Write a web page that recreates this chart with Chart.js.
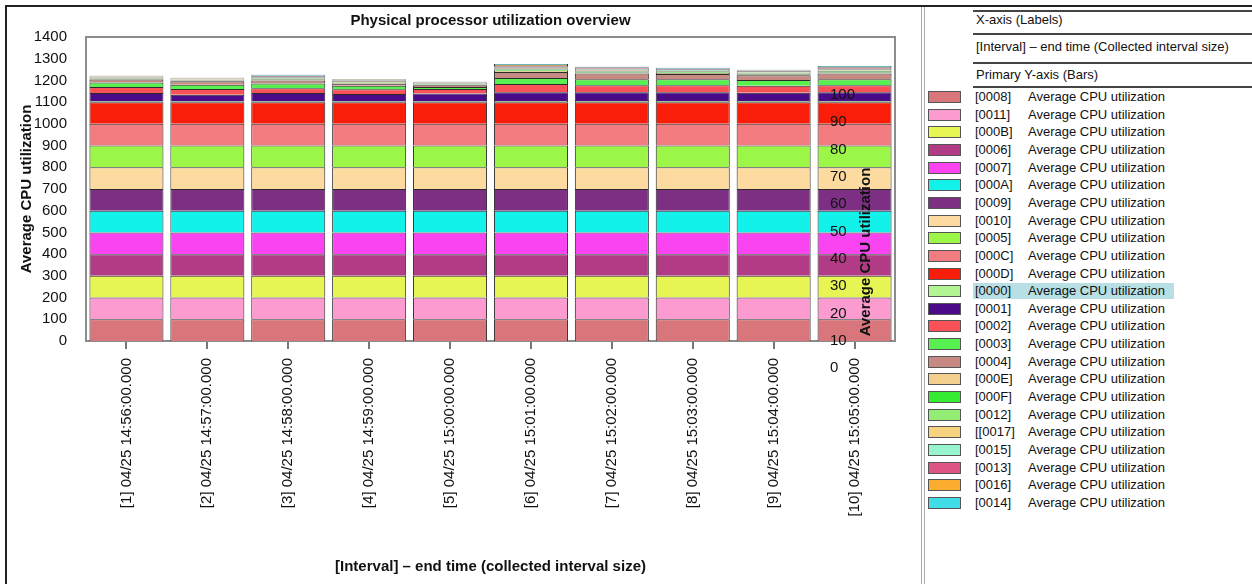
<!DOCTYPE html>
<html>
<head>
<meta charset="utf-8">
<script src="https://cdn.jsdelivr.net/npm/chart.js@4.4.1/dist/chart.umd.min.js"></script>
<style>
  body { margin: 0; background: #fff; font-family: "Liberation Sans", Arial, sans-serif; }
  #page { position: relative; width: 1252px; height: 584px; overflow: hidden; }
  #frame { position: absolute; left: 5px; top: 5px; right: 0; bottom: 0; border-top: 2px solid #222; border-left: 2px solid #222; }
  #chartBox { position: absolute; left: 6px; top: 6px; width: 914px; height: 578px; }
  #sep { position: absolute; left: 921px; top: 7px; bottom: 0; width: 2px; border-left: 1px solid #aaa; border-right: 1px solid #aaa; }
  .rule { position: absolute; left: 973px; right: 0; height: 0; border-top: 2px solid #444; }
  .hdr { position: absolute; left: 976px; font-size: 13px; line-height: 16px; color: #111; white-space: nowrap; }
  .row { position: absolute; left: 928px; height: 16px; line-height: 16px; font-size: 13px; color: #111; white-space: nowrap; }
  .sw { position: absolute; left: 0; top: 2px; width: 31px; height: 10px; border: 1px solid #555; }
  .code { position: absolute; left: 47px; }
  .name { position: absolute; left: 100px; }
  .hl { position: absolute; left: 45px; width: 201px; top: 0; height: 16px; background: #b8dfe3; }
</style>
</head>
<body>
<div id="page">
  <div id="frame"></div>
  <div id="chartBox"><canvas id="chart" width="914" height="578"></canvas></div>
  <div id="sep"></div>
  <div id="legend"></div>
</div>
<script>
// x-axis categories
const intervals = [
  "[1] 04/25 14:56:00.000", "[2] 04/25 14:57:00.000", "[3] 04/25 14:58:00.000",
  "[4] 04/25 14:59:00.000", "[5] 04/25 15:00:00.000", "[6] 04/25 15:01:00.000",
  "[7] 04/25 15:02:00.000", "[8] 04/25 15:03:00.000", "[9] 04/25 15:04:00.000",
  "[10] 04/25 15:05:00.000"
];

// processors in legend / stacking order (bottom first)
const processors = ["[0008]", "[0011]", "[000B]", "[0006]", "[0007]", "[000A]", "[0009]", "[0010]",
  "[0005]", "[000C]", "[000D]", "[0000]", "[0001]", "[0002]", "[0003]", "[0004]",
  "[000E]", "[000F]", "[0012]", "[[0017]", "[0015]", "[0013]", "[0016]", "[0014]"];

const colors = ["#d8767c", "#fb9bd0", "#e6f553", "#b13c85", "#fa44f2", "#12f2ea", "#7d2f84", "#fddba0",
  "#9cf648", "#f27c80", "#fa1e0a", "#b3f594", "#4b0a88", "#fa5058", "#58f050", "#c68a82",
  "#f2cf8c", "#36ec32", "#93ec74", "#f6d37f", "#96f5cf", "#de5484", "#fbad2f", "#42dbe8"];

// Average CPU utilization per processor, one value per interval
const cpu0008 = [100, 100, 100, 100, 100, 100, 100, 100, 100, 100];
const cpu0011 = [100, 100, 100, 100, 100, 100, 100, 100, 100, 100];
const cpu000B = [100, 100, 100, 100, 100, 100, 100, 100, 100, 100];
const cpu0006 = [100, 100, 100, 100, 100, 100, 100, 100, 100, 100];
const cpu0007 = [100, 100, 100, 100, 100, 100, 100, 100, 100, 100];
const cpu000A = [100, 100, 100, 100, 100, 100, 100, 100, 100, 100];
const cpu0009 = [100, 100, 100, 100, 100, 100, 100, 100, 100, 100];
const cpu0010 = [100, 100, 100, 100, 100, 100, 100, 100, 100, 100];
const cpu0005 = [100, 100, 100, 100, 100, 100, 100, 100, 100, 100];
const cpu000C = [100, 100, 100, 100, 100, 100, 100, 100, 100, 100];
const cpu000D = [100, 100, 100, 100, 100, 100, 100, 100, 100, 100];
const cpu0000 = [4, 4, 4, 4, 4, 5, 5, 5, 5, 5];
const cpu0001 = [38, 30, 38, 33, 36, 41, 40, 40, 38, 40];
const cpu0002 = [28, 26, 22, 22, 20, 37, 33, 33, 33, 33];
const cpu0003 = [20, 20, 22, 16, 10, 28, 28, 28, 26, 28];
const cpu0004 = [14, 16, 14, 10, 8, 28, 26, 24, 22, 26];
const cpu000E = [3, 2, 4, 3, 2, 6, 5, 4, 4, 5];
const cpu000F = [2, 2, 3, 3, 2, 5, 4, 4, 3, 5];
const cpu0012 = [2, 2, 3, 3, 2, 5, 4, 4, 3, 4];
const cpu0017 = [2, 2, 3, 3, 2, 4, 4, 3, 3, 4];
const cpu0015 = [2, 2, 3, 3, 2, 4, 4, 3, 3, 4];
const cpu0013 = [2, 2, 3, 2, 2, 4, 3, 3, 3, 4];
const cpu0016 = [2, 2, 3, 2, 2, 4, 3, 3, 3, 4];
const cpu0014 = [2, 2, 4, 3, 2, 5, 4, 4, 3, 5];

const series = [cpu0008, cpu0011, cpu000B, cpu0006, cpu0007, cpu000A, cpu0009, cpu0010,
  cpu0005, cpu000C, cpu000D, cpu0000, cpu0001, cpu0002, cpu0003, cpu0004,
  cpu000E, cpu000F, cpu0012, cpu0017, cpu0015, cpu0013, cpu0016, cpu0014];

// secondary (overlaid) axis tick labels
const rightTicks = [0, 10, 20, 30, 40, 50, 60, 70, 80, 90, 100];

const FONT = "'Liberation Sans', Arial, sans-serif";

const datasets = series.map((d, i) => ({
  label: processors[i] + " Average CPU utilization",
  data: d,
  backgroundColor: colors[i],
  borderColor: "#2a2a2a",
  borderWidth: 1,
  barPercentage: 0.915,
  categoryPercentage: 1.0,
}));

// plot frame drawn behind the bars
const frame = {
  id: "frame",
  beforeDatasetsDraw(chart) {
    const { ctx, chartArea: a } = chart;
    ctx.save();
    ctx.strokeStyle = "#8c8c8c";
    ctx.lineWidth = 2;
    ctx.strokeRect(a.left, a.top, a.right - a.left, a.bottom - a.top);
    ctx.restore();
  },
};

// the stray secondary axis that sits over the last bar
const rightAxis = {
  id: "rightAxis",
  afterDatasetsDraw(chart) {
    const { ctx, chartArea: a } = chart;
    ctx.save();
    ctx.fillStyle = "#111";
    ctx.font = "15px " + FONT;
    ctx.textAlign = "left";
    ctx.textBaseline = "middle";
    rightTicks.forEach((v) => {
      ctx.fillText(String(v), a.right - 65, a.bottom + 27 - v * 2.73);
    });
    ctx.font = "bold 15px " + FONT;
    ctx.translate(a.right - 29, 246);
    ctx.rotate(-Math.PI / 2);
    ctx.textAlign = "center";
    ctx.fillText("Average CPU utilization", 0, 0);
    ctx.restore();
  },
};

new Chart(document.getElementById("chart"), {
  type: "bar",
  data: { labels: intervals, datasets },
  options: {
    responsive: false,
    animation: false,
    layout: { padding: { left: 0, right: 25, top: 0, bottom: 0 } },
    plugins: {
      legend: { display: false },
      tooltip: { enabled: false },
      title: {
        display: true,
        text: "Physical processor utilization overview",
        color: "#111",
        fullSize: false,
        font: { family: FONT, size: 15, weight: "bold" },
        padding: { top: 6, bottom: 7 },
      },
    },
    scales: {
      x: {
        stacked: true,
        border: { display: false },
        grid: { drawOnChartArea: false, drawTicks: true, tickLength: 8, offset: false, color: "#777", lineWidth: 2 },
        ticks: { autoSkip: false, maxRotation: 90, minRotation: 90, padding: 9, color: "#111", font: { family: FONT, size: 15 } },
        title: {
          display: true,
          text: "[Interval] – end time (collected interval size)",
          color: "#111",
          font: { family: FONT, size: 15, weight: "bold" },
          padding: { top: 0, bottom: 8 },
        },
        afterFit: (s) => { s.height = 243; },
      },
      y: {
        stacked: true,
        min: 0,
        max: 1400,
        border: { display: false },
        grid: { display: false },
        ticks: {
          stepSize: 100, padding: 11, color: "#111", font: { family: FONT, size: 15 },
          callback: (v) => String(v),
        },
        title: {
          display: true,
          text: "Average CPU utilization",
          color: "#111",
          font: { family: FONT, size: 15, weight: "bold" },
          padding: { top: 12, bottom: 0 },
        },
        afterFit: (s) => { s.width = 80; },
      },
    },
  },
  plugins: [frame, rightAxis],
});

// legend panel on the right
const legend = document.getElementById("legend");
[10, 33, 62, 86].forEach((y) => {
  const r = document.createElement("div");
  r.className = "rule";
  r.style.top = y + "px";
  legend.appendChild(r);
});
[["X-axis (Labels)", 20], ["[Interval] – end time (Collected interval size)", 47], ["Primary Y-axis (Bars)", 75]]
  .forEach(([t, y]) => {
    const h = document.createElement("div");
    h.className = "hdr";
    h.style.top = (y - 8) + "px";
    h.textContent = t;
    legend.appendChild(h);
  });
processors.forEach((p, i) => {
  const row = document.createElement("div");
  row.className = "row";
  row.style.top = (97 + i * 17.65 - 8) + "px";
  let html = "";
  if (p === "[0000]") html += '<div class="hl"></div>';
  html += '<div class="sw" style="background:' + colors[i] + '"></div>';
  html += '<span class="code">' + p + '</span><span class="name">Average CPU utilization</span>';
  row.innerHTML = html;
  legend.appendChild(row);
});
</script>
</body>
</html>
